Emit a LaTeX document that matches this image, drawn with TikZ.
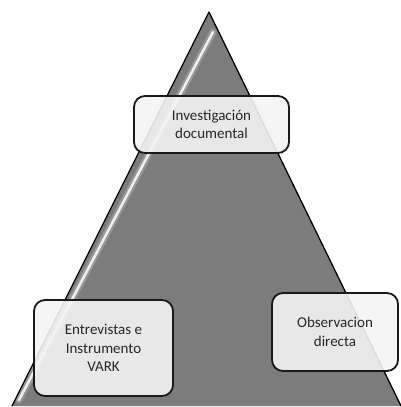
\documentclass[tikz,border=0pt]{standalone}
\usepackage{fontspec}
\setmainfont{Carlito}
\usepackage{xcolor}
\usepackage{tikz}
\definecolor{pyrgray}{HTML}{7C7C7C}
\definecolor{boxfill}{HTML}{F4F4F4}

\begin{document}
\begin{tikzpicture}[x=1pt, y=-1pt,
        box/.style={draw=black!90, line width=1.8pt, rounded corners=11pt, fill=boxfill, fill opacity=0.9, text opacity=1,
          align=center, inner sep=0pt, text=black!85, font=\fontsize{15}{18.5}\selectfont},
        shine/.style={white, line cap=round}
      ]
      \useasboundingbox (0,0) rectangle (401,407);
      \coordinate (apex) at (209,12);
      \coordinate (bleft) at (12,406);
      \coordinate (bright) at (401,406);
      % pyramid
      \fill[pyrgray] (apex) -- (bleft) -- (bright) -- cycle;
      \draw[shine, line width=7pt, opacity=0.2] (213,32) -- (19,400);
      \draw[shine, line width=2.5pt, opacity=0.85] (213,32) -- (19,400);
      \draw[line width=1.3pt, line join=round] (bleft) -- (apex) -- (bright);
      % boxes
      \node[box, minimum width=155pt, minimum height=57pt] (docs) at (211.5,124.5) {Investigación\\documental};
      \node[box, minimum width=139pt, minimum height=96pt] (vark) at (103.5,348) {Entrevistas e\\Instrumento\\VARK};
      \node[box, minimum width=126pt, minimum height=78pt] (obs) at (335,332) {Observacion\\directa};
    \end{tikzpicture}
\end{document}
